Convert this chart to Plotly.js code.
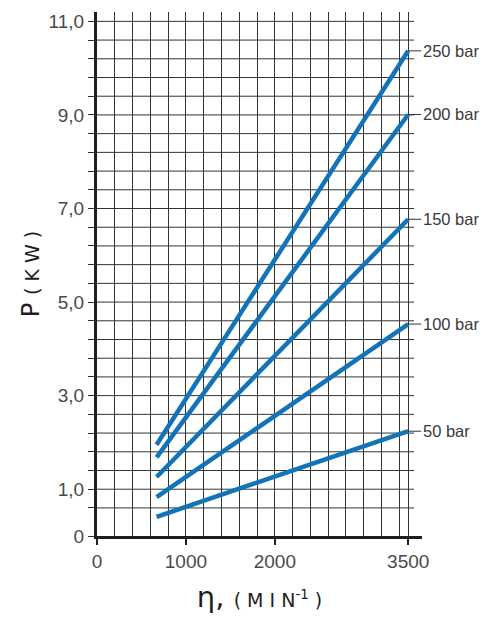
<!DOCTYPE html>
<html>
<head>
<meta charset="utf-8">
<script src="https://cdn.plot.ly/plotly-3.0.1.min.js"></script>
<style>
  html, body { margin: 0; padding: 0; background: #fff; }
  #chart { width: 486px; height: 617px; }
</style>
</head>
<body>
<div id="chart"></div>
<script>
// ---- data ----
const speed = [670, 3500];                 // shaft speed, min^-1
const seriesNames = ['250 bar', '200 bar', '150 bar', '100 bar', '50 bar'];
const p250 = [1.95, 10.37];
const p200 = [1.68, 9.01];
const p150 = [1.26, 6.77];
const p100 = [0.83, 4.53];
const p50  = [0.41, 2.24];
const seriesValues = [p250, p200, p150, p100, p50];

const xTickVals = [0, 1000, 2000, 3500];
const xTickText = ['0', '1000', '2000', '3500'];
const yTickVals = [0, 1, 3, 5, 7, 9, 11];
const yTickText = ['0', '1,0', '3,0', '5,0', '7,0', '9,0', '11,0'];

// ---- grid positions ----
const xMinor = [];
for (let v = 200; v <= 3400; v += 200) xMinor.push(v);
xMinor.push(3500);
const yGrid = [];
for (let k = 0; k <= 26; k++) yGrid.push(Math.round((0.6 + 0.4 * k) * 10) / 10);

const lineColor = '#1273b9';
const gridColor = '#333333';

const traces = seriesValues.map((vals, i) => ({
  x: speed,
  y: vals,
  type: 'scatter',
  mode: 'lines',
  name: seriesNames[i],
  line: { color: lineColor, width: 4.5 },
  hoverinfo: 'skip'
}));

const shapes = yGrid.map(v => ({
  type: 'line', xref: 'x', yref: 'y',
  x0: 0, x1: 3565, y0: v, y1: v,
  line: { color: gridColor, width: 1 },
  layer: 'below'
}));

const annotations = seriesValues.map((vals, i) => ({
  x: speed[speed.length - 1],
  y: vals[vals.length - 1],
  xref: 'x', yref: 'y',
  text: seriesNames[i],
  showarrow: true,
  arrowhead: 0,
  arrowwidth: 1,
  arrowcolor: gridColor,
  ax: 13, ay: 0,
  xanchor: 'left',
  yanchor: 'middle',
  font: { family: 'Liberation Sans, Arial, sans-serif', size: 16.5, color: '#3a3a3a' }
}));

const tickFont = { family: 'Liberation Sans Narrow, Arial Narrow, Liberation Sans, sans-serif', size: 19, color: '#4a4a4a' };

const layout = {
  width: 486, height: 617,
  margin: { l: 97, r: 64, t: 12, b: 81 },
  paper_bgcolor: '#fff', plot_bgcolor: '#fff',
  showlegend: false,
  xaxis: {
    range: [0, 3655],
    tickmode: 'array', tickvals: xTickVals, ticktext: xTickText,
    ticks: 'outside', ticklen: 6, tickwidth: 1.5, tickcolor: '#222',
    showgrid: true, gridcolor: gridColor, gridwidth: 1,
    minor: { tickmode: 'array', tickvals: xMinor, showgrid: true, gridcolor: gridColor, gridwidth: 1, ticks: '' },
    showline: true, linecolor: '#1e1e1e', linewidth: 3,
    zeroline: false,
    tickfont: tickFont,
    title: {
      text: 'η, <span style="font-size:19px">( M I N<sup>-1</sup> )</span>',
      font: { family: 'DejaVu Sans, sans-serif', size: 29, color: '#1e1e1e' },
      standoff: 16
    }
  },
  yaxis: {
    range: [0, 11.2],
    tickmode: 'array', tickvals: yTickVals, ticktext: yTickText,
    ticks: 'outside', ticklen: 6, tickwidth: 1, tickcolor: gridColor,
    showgrid: false,
    minor: { tickmode: 'array', tickvals: yGrid, ticks: 'outside', ticklen: 6, tickwidth: 1, tickcolor: gridColor, showgrid: false },
    showline: true, linecolor: '#1e1e1e', linewidth: 3,
    zeroline: false,
    tickfont: tickFont,
    title: {
      text: 'P <span style="font-size:19px">( K W )</span>',
      font: { family: 'DejaVu Sans, sans-serif', size: 24, color: '#1e1e1e' },
      standoff: 3
    }
  },
  shapes: shapes,
  annotations: annotations
};

Plotly.newPlot('chart', traces, layout, { displayModeBar: false, staticPlot: true });
</script>
</body>
</html>
